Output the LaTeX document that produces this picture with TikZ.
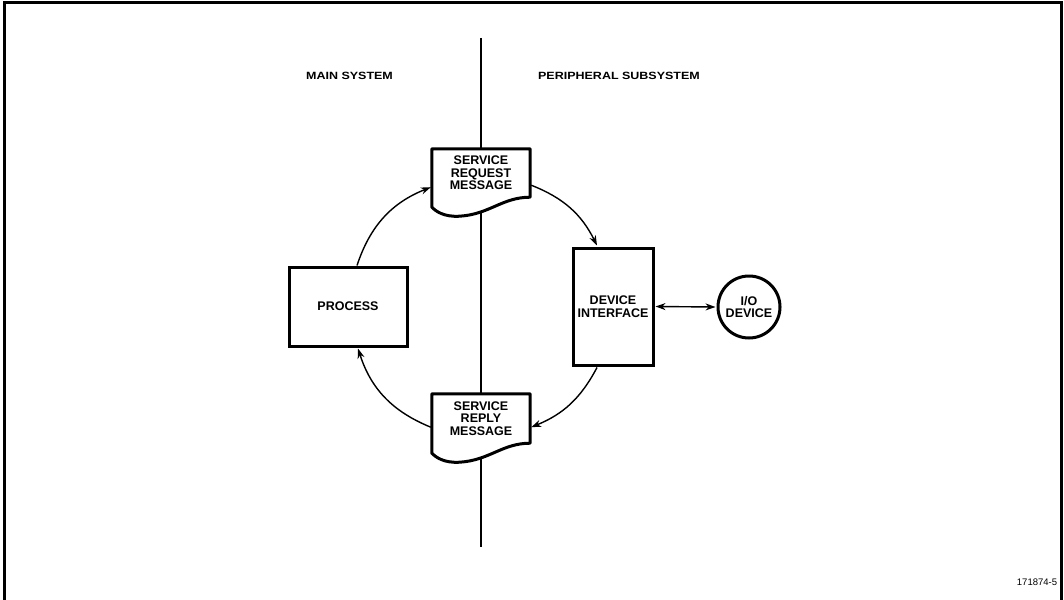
\documentclass[tikz,border=0pt]{standalone}
\usepackage{fontspec}
\setmainfont{Liberation Sans}
\usetikzlibrary{calc,arrows.meta,backgrounds}
\tikzset{
  mytip/.tip={Stealth[length=10pt,width=7pt]},
  boxline/.style={draw, line width=3pt, inner sep=0pt, align=center,
    font=\fontsize{12.5}{12.5}\selectfont\bfseries},
  docbox/.style={inner sep=0pt, minimum width=98pt, align=center,
    font=\fontsize{12.5}{12.5}\selectfont\bfseries},
  flow/.style={line width=1.4pt, -{mytip}},
  header/.style={font=\fontsize{10.5}{10.5}\selectfont\bfseries, inner sep=0pt},
}
\newcommand\widetext[1]{\scalebox{1.19}[1]{#1}}
\newcommand\docoutline[1]{%
  \draw[line width=3pt, line join=round, fill=white]
    (#1.south east)
    .. controls ($(#1.south east)+(-28,0)$) and ($(#1.south west)+(58,17)$)
    .. ($(#1.south west)+(28,19)$)
    .. controls ($(#1.south west)+(12,20)$) and ($(#1.south west)+(4,14)$)
    .. ($(#1.south west)+(0,10)$)
    -- (#1.north west) -- (#1.north east) -- cycle;}
\begin{document}
\begin{tikzpicture}[x=1pt,y=-1pt]
\useasboundingbox (0,0) rectangle (1064,599);
% frame
\draw[line width=3pt] (4,600) -- (4,3) -- (1061,3) -- (1061,600);
% headers
\node[header] (hmain) at (349.5,75.5) {\widetext{MAIN SYSTEM}};
\node[header] (hper) at (619,75.5) {\widetext{PERIPHERAL SUBSYSTEM}};
% boxes
\node[docbox, minimum height=48pt] (req) at (481,173) {SERVICE\\REQUEST\\MESSAGE};
\node[docbox, minimum height=49pt] (rep) at (481,418.5) {SERVICE\\REPLY\\MESSAGE};
\node[boxline, minimum width=118pt, minimum height=79pt] (proc) at (348,306.5) {PROCESS};
\node[boxline, minimum width=80pt, minimum height=117pt] (dev) at (613,306.5) {DEVICE\\INTERFACE};
\node[boxline, circle, minimum size=62pt] (io) at (749,307) {I/O\\DEVICE};
\begin{pgfonlayer}{background}
  \coordinate (divtop) at (481,38);
  \coordinate (divbot) at (481,547);
  \draw[line width=1.3pt] (divtop) -- (divbot);
  \docoutline{req}
  \docoutline{rep}
\end{pgfonlayer}
% connectors
\draw[flow] ($(proc.north)+(9,0)$) to[bend left=25] ($(req.south west)+(-1,-10)$);
\draw[flow] ($(req.south east)+(1,-12)$) to[bend left=21] ($(dev.north)+(-16,-1)$);
\draw[flow] ($(dev.south)+(-16,1)$) to[bend left=20] ($(rep.south east)+(1,-16)$);
\draw[flow] ($(rep.south west)+(-1,-16)$) to[bend left=25] ($(proc.south)+(10,1)$);
\draw[line width=1.4pt, {mytip}-{mytip}] ($(dev.east)+(1,0)$) -- ($(io.west)+(-1,0)$);
% figure number
\node[font=\fontsize{9.5}{9.5}\selectfont, inner sep=0pt] (fig) at (1037,582) {171874-5};
\end{tikzpicture}
\end{document}
